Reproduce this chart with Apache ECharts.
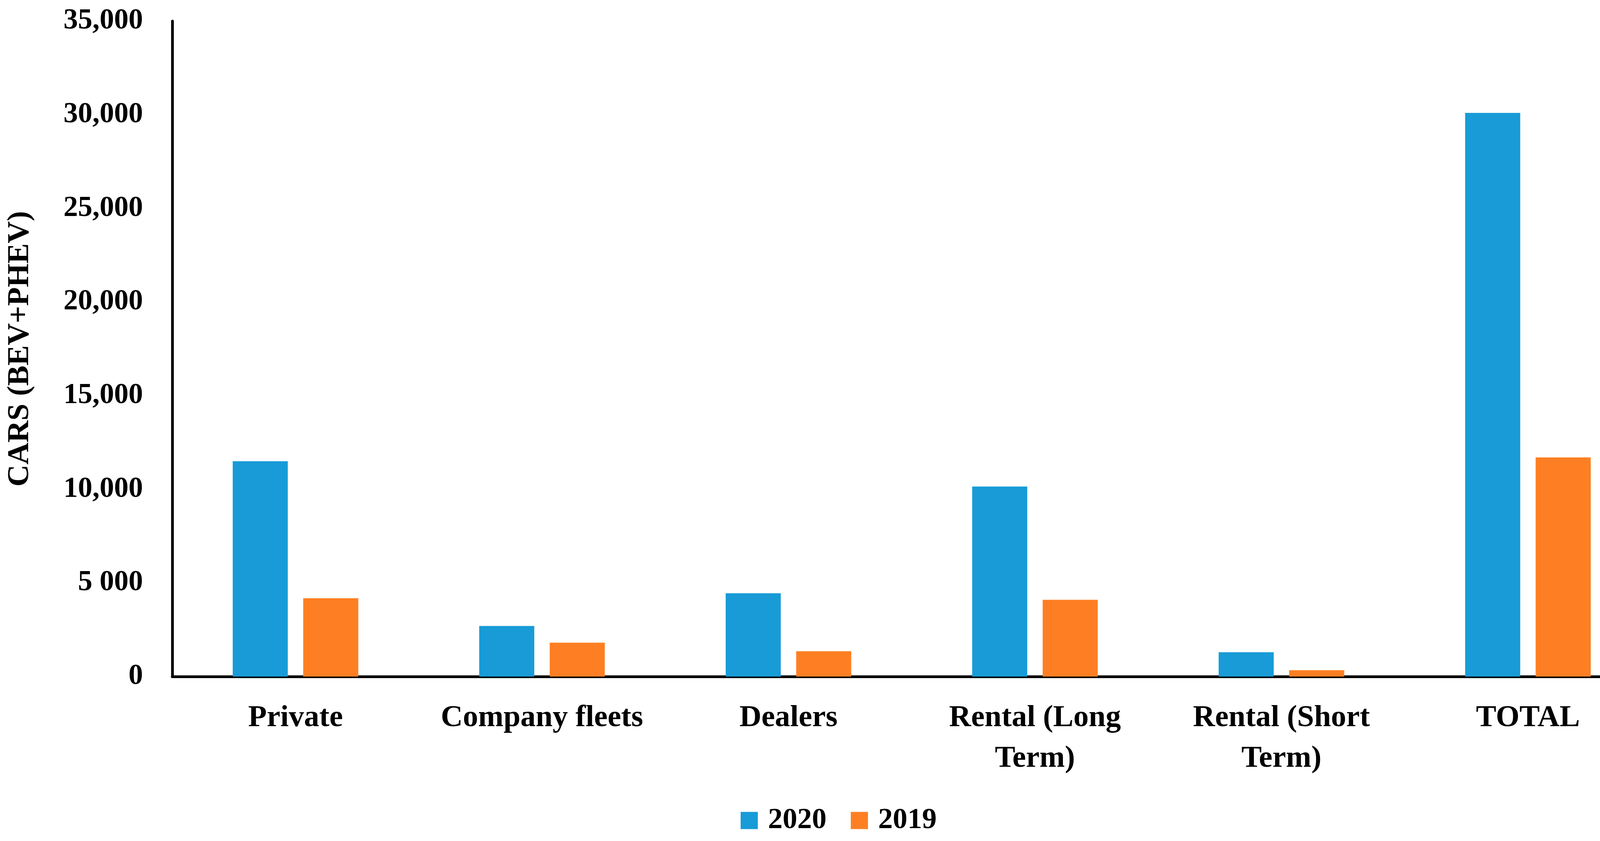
<!DOCTYPE html>
<html>
<head>
<meta charset="utf-8">
<style>
  html, body { margin: 0; padding: 0; background: #ffffff; }
  #chart { width: 4251px; height: 2153px; }
</style>
<script src="https://cdn.jsdelivr.net/npm/echarts@6/dist/echarts.min.js"></script>
</head>
<body>
<div id="chart"></div>
<script>
const categories = ['Private', 'Company fleets', 'Dealers', 'Rental (Long\nTerm)', 'Rental (Short\nTerm)', 'TOTAL'];
const values2020 = [11500, 2700, 4450, 10150, 1300, 30100];
const values2019 = [4180, 1810, 1350, 4100, 340, 11700];
const yTickLabels = ['0', '5 000', '10,000', '15,000', '20,000', '25,000', '30,000', '35,000'];
const seriesNames = ['2020', '2019'];

const FONT = "'Liberation Serif', 'Times New Roman', serif";

const chart = echarts.init(document.getElementById('chart'), null, { renderer: 'canvas' });
chart.setOption({
  backgroundColor: '#ffffff',
  animation: false,
  color: ['#189BD7', '#FE7F23'],
  grid: { left: 441, right: 24, top: 54, bottom: 421, containLabel: false },
  legend: {
    data: seriesNames,
    left: 1891,
    top: 2058,
    itemWidth: 44,
    itemHeight: 44,
    itemGap: 62,
    icon: 'rect',
    textStyle: { fontFamily: FONT, fontWeight: 'bold', fontSize: 75, color: '#000', padding: [0, 0, 0, 21] }
  },
  xAxis: {
    type: 'category',
    data: categories,
    axisLine: { show: true, lineStyle: { color: '#000', width: 7 } },
    axisTick: { show: false },
    axisLabel: {
      interval: 0,
      margin: 55,
      fontFamily: FONT,
      fontWeight: 'bold',
      fontSize: 78,
      lineHeight: 104,
      color: '#000'
    },
    splitLine: { show: false }
  },
  yAxis: {
    type: 'value',
    min: 0,
    max: 35000,
    interval: 5000,
    name: 'CARS (BEV+PHEV)',
    nameLocation: 'middle',
    nameGap: 350,
    nameRotate: 90,
    nameTextStyle: { fontFamily: FONT, fontWeight: 'bold', fontSize: 78, color: '#000' },
    axisLine: { show: true, lineStyle: { color: '#000', width: 7 } },
    axisTick: { show: false },
    splitLine: { show: false },
    axisLabel: {
      margin: 75,
      fontFamily: FONT,
      fontWeight: 'bold',
      fontSize: 74,
      color: '#000',
      formatter: function (v) { return yTickLabels[Math.round(v / 5000)]; }
    }
  },
  series: [
    { name: seriesNames[0], type: 'bar', data: values2020, barWidth: 141, barGap: '28%' },
    { name: seriesNames[1], type: 'bar', data: values2019, barWidth: 141, barGap: '28%' }
  ]
});
</script>
</body>
</html>
